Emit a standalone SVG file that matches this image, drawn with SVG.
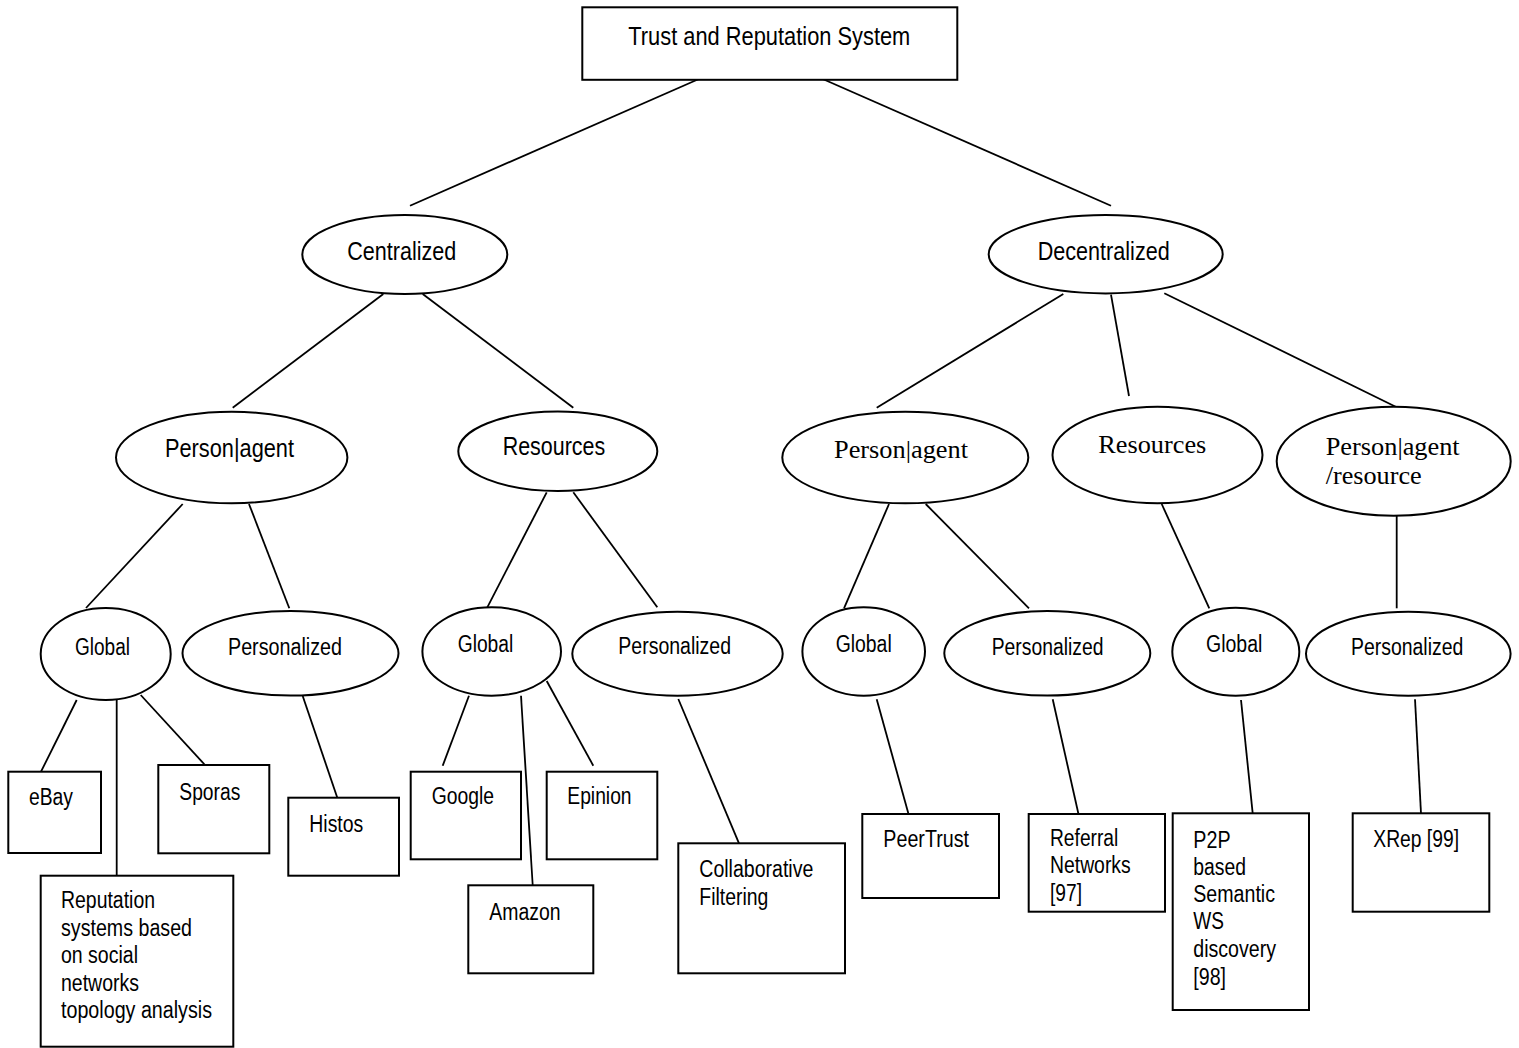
<svg xmlns="http://www.w3.org/2000/svg" width="1519" height="1048" viewBox="0 0 1519 1048">
  <style>
    .shape { fill: #ffffff; stroke: #000000; stroke-width: 2; }
    .link { stroke: #000000; stroke-width: 1.8; fill: none; }
    .sans { font-family: "Liberation Sans", Arial, sans-serif; fill: #000000; }
    .serif { font-family: "Liberation Serif", "Times New Roman", serif; fill: #000000; font-size: 25px; }
    .big { font-size: 25px; }
    .small { font-size: 23px; }
  </style>
  <rect width="1519" height="1048" fill="#ffffff"/>

  <!-- connectors -->
  <g id="connectors">
    <line class="link" x1="698.3" y1="79.3" x2="410" y2="205.7"/>
    <line class="link" x1="823.3" y1="79.3" x2="1111" y2="205.7"/>
    <line class="link" x1="383.3" y1="294" x2="232.7" y2="407.7"/>
    <line class="link" x1="422.7" y1="294" x2="573.3" y2="407.7"/>
    <line class="link" x1="1063.3" y1="294" x2="876.7" y2="407.7"/>
    <line class="link" x1="1111" y1="294.7" x2="1129" y2="396"/>
    <line class="link" x1="1164.3" y1="293.3" x2="1395.7" y2="406.7"/>
    <line class="link" x1="182.7" y1="504" x2="86" y2="608"/>
    <line class="link" x1="249" y1="504" x2="289.3" y2="608.3"/>
    <line class="link" x1="546.7" y1="492.3" x2="487.3" y2="607.3"/>
    <line class="link" x1="573.3" y1="492.3" x2="657.3" y2="607.3"/>
    <line class="link" x1="889" y1="504" x2="844" y2="608.3"/>
    <line class="link" x1="925.7" y1="504" x2="1029" y2="608.3"/>
    <line class="link" x1="1161.7" y1="504" x2="1209.3" y2="608.3"/>
    <line class="link" x1="1396.7" y1="515.7" x2="1396.7" y2="608.3"/>
    <line class="link" x1="76.7" y1="700" x2="41" y2="771.7"/>
    <line class="link" x1="116.7" y1="700" x2="116.7" y2="875.7"/>
    <line class="link" x1="140.7" y1="695" x2="205" y2="765"/>
    <line class="link" x1="302.7" y1="696" x2="337.3" y2="797.7"/>
    <line class="link" x1="469" y1="695.7" x2="442.7" y2="765.7"/>
    <line class="link" x1="521" y1="695.7" x2="532.7" y2="885.3"/>
    <line class="link" x1="546.7" y1="681" x2="593.3" y2="765.7"/>
    <line class="link" x1="678.3" y1="699" x2="739" y2="843.3"/>
    <line class="link" x1="876.7" y1="699.3" x2="908.3" y2="813.3"/>
    <line class="link" x1="1052.7" y1="699.3" x2="1078.3" y2="813.3"/>
    <line class="link" x1="1241" y1="700" x2="1252.7" y2="813.3"/>
    <line class="link" x1="1415" y1="699.3" x2="1421" y2="813.3"/>
  </g>

  <!-- root -->
  <g id="trust-reputation-system">
    <rect class="shape" x="582.3" y="7.3" width="375" height="72.5"/>
    <text class="sans big" x="628.3" y="45" textLength="282" lengthAdjust="spacingAndGlyphs">Trust and Reputation System</text>
  </g>

  <!-- level 1 -->
  <g id="centralized">
    <ellipse class="shape" cx="404.8" cy="254.5" rx="102.5" ry="39.5"/>
    <text class="sans big" x="347.3" y="260" textLength="109" lengthAdjust="spacingAndGlyphs">Centralized</text>
  </g>
  <g id="decentralized">
    <ellipse class="shape" cx="1105.7" cy="254.2" rx="117" ry="39.2"/>
    <text class="sans big" x="1037.7" y="260" textLength="132" lengthAdjust="spacingAndGlyphs">Decentralized</text>
  </g>

  <!-- level 2 -->
  <g id="c-person-agent">
    <ellipse class="shape" cx="231.7" cy="457.5" rx="115.7" ry="45.8"/>
    <text class="sans big" x="165" y="457.3" textLength="129" lengthAdjust="spacingAndGlyphs">Person|agent</text>
  </g>
  <g id="c-resources">
    <ellipse class="shape" cx="557.8" cy="451.3" rx="99.5" ry="39.7"/>
    <text class="sans big" x="502.7" y="455" textLength="102.5" lengthAdjust="spacingAndGlyphs">Resources</text>
  </g>
  <g id="d-person-agent">
    <ellipse class="shape" cx="905.3" cy="457.5" rx="123" ry="45.8"/>
    <text class="serif" x="834" y="458.3" textLength="134" lengthAdjust="spacingAndGlyphs">Person|agent</text>
  </g>
  <g id="d-resources">
    <ellipse class="shape" cx="1157.5" cy="455" rx="105" ry="48.3"/>
    <text class="serif" x="1098.3" y="453.3" textLength="108" lengthAdjust="spacingAndGlyphs">Resources</text>
  </g>
  <g id="d-person-agent-resource">
    <ellipse class="shape" cx="1393.7" cy="461.2" rx="117" ry="54.5"/>
    <text class="serif" x="1325.7" y="455" textLength="134" lengthAdjust="spacingAndGlyphs">Person|agent</text>
    <text class="serif" x="1325.7" y="484" textLength="96" lengthAdjust="spacingAndGlyphs">/resource</text>
  </g>

  <!-- level 3 -->
  <g id="c-pa-global">
    <ellipse class="shape" cx="105.7" cy="654" rx="65" ry="46"/>
    <text class="sans small" x="75" y="655" textLength="55" lengthAdjust="spacingAndGlyphs">Global</text>
  </g>
  <g id="c-pa-personalized">
    <ellipse class="shape" cx="290.5" cy="653.3" rx="108" ry="42.3"/>
    <text class="sans small" x="228" y="655" textLength="114" lengthAdjust="spacingAndGlyphs">Personalized</text>
  </g>
  <g id="c-res-global">
    <ellipse class="shape" cx="491.7" cy="651.5" rx="69.3" ry="44.2"/>
    <text class="sans small" x="457.7" y="651.7" textLength="55.6" lengthAdjust="spacingAndGlyphs">Global</text>
  </g>
  <g id="c-res-personalized">
    <ellipse class="shape" cx="677.5" cy="653.7" rx="105.2" ry="42"/>
    <text class="sans small" x="618.3" y="654.3" textLength="112.7" lengthAdjust="spacingAndGlyphs">Personalized</text>
  </g>
  <g id="d-pa-global">
    <ellipse class="shape" cx="863.7" cy="651.5" rx="61.3" ry="44.2"/>
    <text class="sans small" x="835.7" y="651.7" textLength="56" lengthAdjust="spacingAndGlyphs">Global</text>
  </g>
  <g id="d-pa-personalized">
    <ellipse class="shape" cx="1047.3" cy="653.3" rx="103" ry="42.3"/>
    <text class="sans small" x="991.7" y="655" textLength="111.7" lengthAdjust="spacingAndGlyphs">Personalized</text>
  </g>
  <g id="d-res-global">
    <ellipse class="shape" cx="1235.8" cy="651.7" rx="63.5" ry="44"/>
    <text class="sans small" x="1206" y="651.7" textLength="56.3" lengthAdjust="spacingAndGlyphs">Global</text>
  </g>
  <g id="d-par-personalized">
    <ellipse class="shape" cx="1408.3" cy="653.7" rx="102.3" ry="42"/>
    <text class="sans small" x="1351" y="655" textLength="112.3" lengthAdjust="spacingAndGlyphs">Personalized</text>
  </g>

  <!-- leaves -->
  <g id="ebay">
    <rect class="shape" x="8.3" y="771.7" width="92.7" height="81.3"/>
    <text class="sans small" x="29" y="805" textLength="44" lengthAdjust="spacingAndGlyphs">eBay</text>
  </g>
  <g id="reputation-social">
    <rect class="shape" x="40.7" y="875.7" width="192.6" height="171"/>
    <text class="sans small" x="61" y="908" textLength="94" lengthAdjust="spacingAndGlyphs">Reputation</text>
    <text class="sans small" x="61" y="935.5" textLength="131" lengthAdjust="spacingAndGlyphs">systems based</text>
    <text class="sans small" x="61" y="963" textLength="77" lengthAdjust="spacingAndGlyphs">on social</text>
    <text class="sans small" x="61" y="990.5" textLength="78" lengthAdjust="spacingAndGlyphs">networks</text>
    <text class="sans small" x="61" y="1018" textLength="151" lengthAdjust="spacingAndGlyphs">topology analysis</text>
  </g>
  <g id="sporas">
    <rect class="shape" x="158.3" y="765" width="111" height="88.3"/>
    <text class="sans small" x="179.3" y="800" textLength="61" lengthAdjust="spacingAndGlyphs">Sporas</text>
  </g>
  <g id="histos">
    <rect class="shape" x="288.3" y="797.7" width="110.7" height="78"/>
    <text class="sans small" x="309.3" y="831.7" textLength="54" lengthAdjust="spacingAndGlyphs">Histos</text>
  </g>
  <g id="google">
    <rect class="shape" x="410.7" y="771.7" width="110.3" height="87.6"/>
    <text class="sans small" x="431.7" y="804" textLength="62.3" lengthAdjust="spacingAndGlyphs">Google</text>
  </g>
  <g id="amazon">
    <rect class="shape" x="468.3" y="885.3" width="125" height="88"/>
    <text class="sans small" x="489.3" y="920" textLength="71.3" lengthAdjust="spacingAndGlyphs">Amazon</text>
  </g>
  <g id="epinion">
    <rect class="shape" x="546.7" y="771.7" width="110.6" height="87.6"/>
    <text class="sans small" x="567.3" y="804" textLength="64.3" lengthAdjust="spacingAndGlyphs">Epinion</text>
  </g>
  <g id="collaborative-filtering">
    <rect class="shape" x="678.3" y="843.3" width="166.7" height="130"/>
    <text class="sans small" x="699.3" y="876.7" textLength="114" lengthAdjust="spacingAndGlyphs">Collaborative</text>
    <text class="sans small" x="699.3" y="905" textLength="69" lengthAdjust="spacingAndGlyphs">Filtering</text>
  </g>
  <g id="peertrust">
    <rect class="shape" x="862.3" y="814" width="136.7" height="84"/>
    <text class="sans small" x="883.3" y="846.7" textLength="85.7" lengthAdjust="spacingAndGlyphs">PeerTrust</text>
  </g>
  <g id="referral-networks">
    <rect class="shape" x="1028.7" y="814" width="136.3" height="97.7"/>
    <text class="sans small" x="1050" y="846" textLength="68.3" lengthAdjust="spacingAndGlyphs">Referral</text>
    <text class="sans small" x="1050" y="873.3" textLength="80.7" lengthAdjust="spacingAndGlyphs">Networks</text>
    <text class="sans small" x="1050" y="900.5" textLength="32" lengthAdjust="spacingAndGlyphs">[97]</text>
  </g>
  <g id="p2p-semantic-ws">
    <rect class="shape" x="1172.7" y="813.3" width="136.3" height="196.7"/>
    <text class="sans small" x="1193.3" y="848.3" textLength="37.3" lengthAdjust="spacingAndGlyphs">P2P</text>
    <text class="sans small" x="1193.3" y="875" textLength="52.7" lengthAdjust="spacingAndGlyphs">based</text>
    <text class="sans small" x="1193.3" y="901.7" textLength="81.7" lengthAdjust="spacingAndGlyphs">Semantic</text>
    <text class="sans small" x="1193.3" y="929.3" textLength="30.7" lengthAdjust="spacingAndGlyphs">WS</text>
    <text class="sans small" x="1193.3" y="956.7" textLength="82.7" lengthAdjust="spacingAndGlyphs">discovery</text>
    <text class="sans small" x="1193.3" y="985" textLength="32.7" lengthAdjust="spacingAndGlyphs">[98]</text>
  </g>
  <g id="xrep">
    <rect class="shape" x="1352.7" y="813.3" width="136.6" height="98.4"/>
    <text class="sans small" x="1373.3" y="846.7" textLength="85.7" lengthAdjust="spacingAndGlyphs">XRep [99]</text>
  </g>
</svg>
